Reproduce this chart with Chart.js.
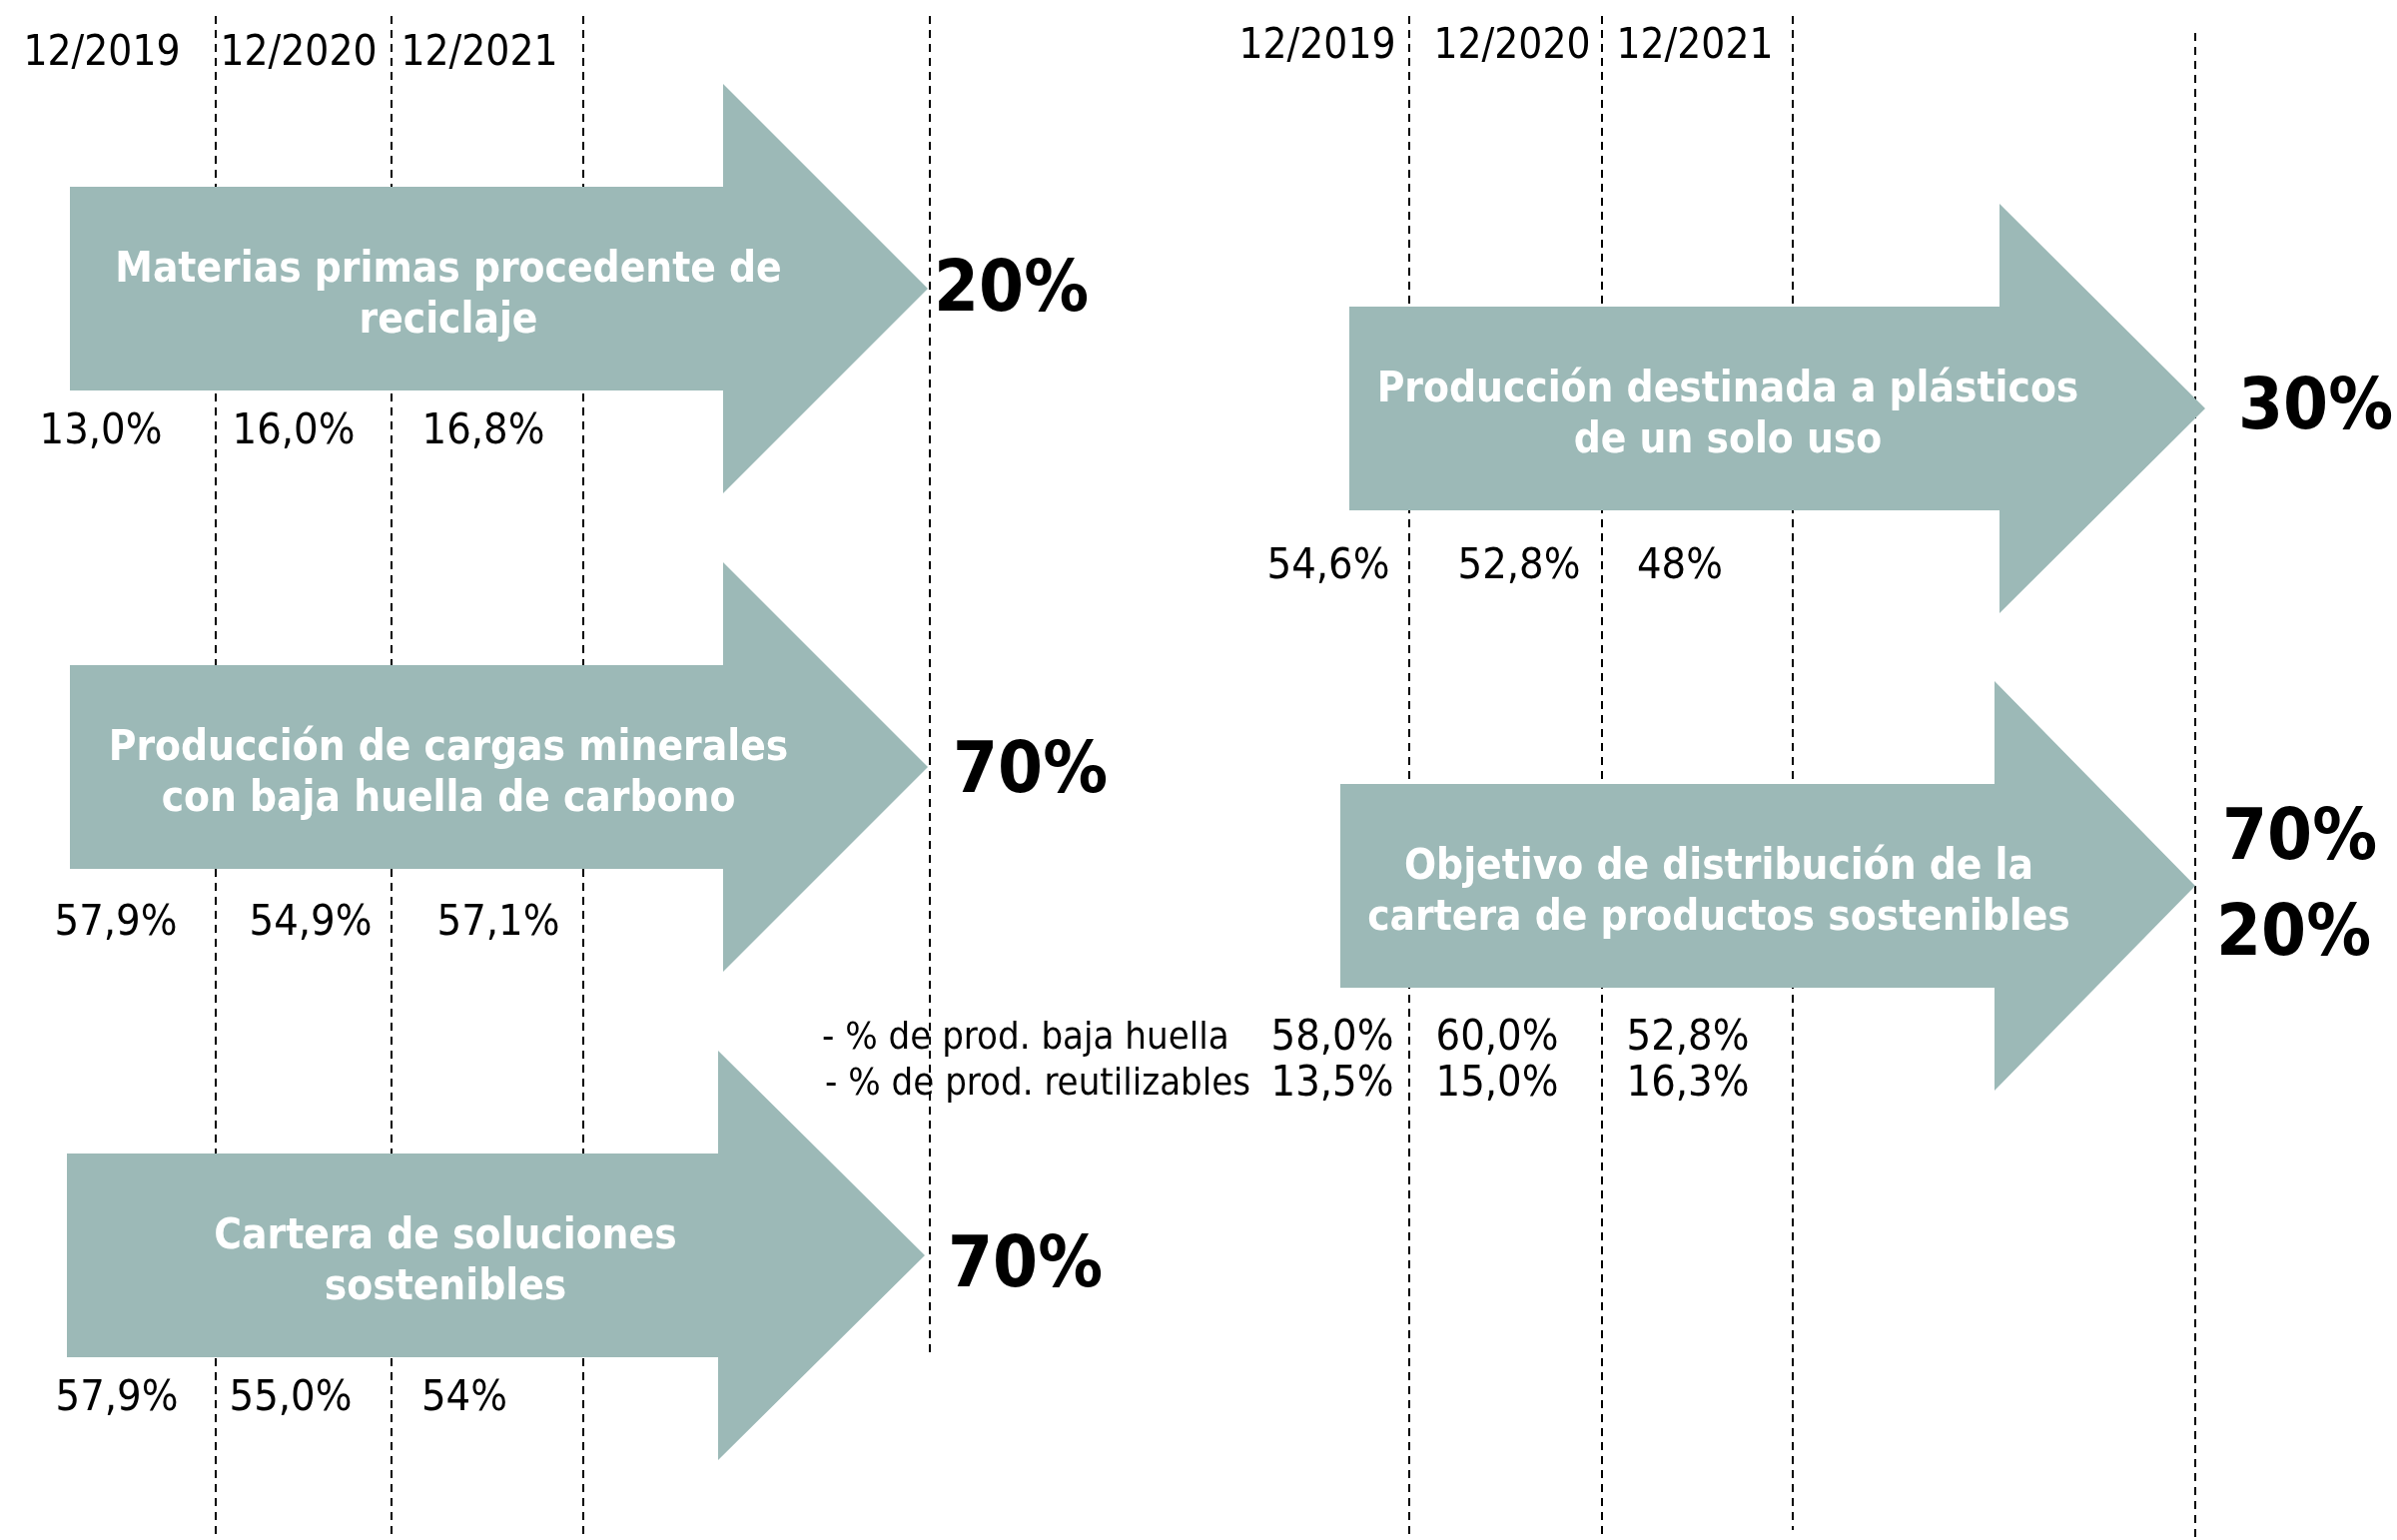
<!DOCTYPE html>
<html lang="es">
<head>
<meta charset="utf-8">
<title>Objetivos de sostenibilidad</title>
<script src="https://cdn.jsdelivr.net/npm/chart.js@4.4.0/dist/chart.umd.min.js"></script>
<style>
  html, body { margin: 0; padding: 0; background: #fff; }
  #roadmap { display: block; }
</style>
</head>
<body>
<canvas id="roadmap" width="2400" height="1542"></canvas>
<script>
// periods printed on top of both panels
const periods = ['12/2019', '12/2020', '12/2021']

// text inside each arrow
const indicatorNames = [
  ['Materias primas procedente de', 'reciclaje'],
  ['Producción de cargas minerales', 'con baja huella de carbono'],
  ['Cartera de soluciones', 'sostenibles'],
  ['Producción destinada a plásticos', 'de un solo uso'],
  ['Objetivo de distribución de la', 'cartera de productos sostenibles']
]

// historic values (%), one per period
const recicladoValues = [13.0, 16.0, 16.8]
const cargasValues = [57.9, 54.9, 57.1]
const carteraValues = [57.9, 55.0, 54]
const plasticosValues = [54.6, 52.8, 48]
const bajaHuellaValues = [58.0, 60.0, 52.8]
const reutilizablesValues = [13.5, 15.0, 16.3]

// decimals printed for each value (54% and 48% come without decimals)
const carteraDecimals = [1, 1, 0]
const plasticosDecimals = [1, 1, 0]

// targets (%) at the arrow tips
const recicladoTarget = 20
const cargasTarget = 70
const carteraTarget = 70
const plasticosTarget = 30
const bajaHuellaTarget = 70
const reutilizablesTarget = 20

const subLabels = ['- % de prod. baja huella', '- % de prod. reutilizables']

// ---- layout (pixels of the 2400x1542 sheet) ----
const W = 2400
const H = 1542
const ARROW = '#9CB9B7'
const FONT = "'DejaVu Sans Condensed', 'DejaVu Sans', sans-serif"

const fmt = (v, d = 1) => v.toFixed(d).replace('.', ',') + '%'

const guides = [
  { x: 216, top: 16, bottom: H },
  { x: 392, top: 16, bottom: H },
  { x: 584, top: 16, bottom: H },
  { x: 931, top: 16, bottom: 1355 },
  { x: 1411, top: 16, bottom: H },
  { x: 1604, top: 16, bottom: H },
  { x: 1795, top: 16, bottom: 1532 },
  { x: 2198, top: 33, bottom: H }
]

const headers = [
  { xs: [102, 299, 480], y: 54 },
  { xs: [1319, 1514, 1697], y: 47 }
]

const arrows = [
  { left: 70, base: 724, tip: 929, cy: 289,
    values: recicladoValues, valueXs: [101, 294, 484], valueY: 433,
    targets: [{ v: recicladoTarget, x: 935, y: 292 }] },
  { left: 70, base: 724, tip: 929, cy: 768,
    values: cargasValues, valueXs: [116, 311, 499], valueY: 925,
    targets: [{ v: cargasTarget, x: 954, y: 774 }] },
  { left: 67, base: 719, tip: 926, cy: 1257,
    values: carteraValues, decimals: carteraDecimals, valueXs: [117, 291, 465], valueY: 1401,
    targets: [{ v: carteraTarget, x: 949, y: 1269 }] },
  { left: 1351, base: 2002, tip: 2208, cy: 409,
    values: plasticosValues, decimals: plasticosDecimals, valueXs: [1330, 1521, 1682], valueY: 568,
    targets: [{ v: plasticosTarget, x: 2241, y: 410 }] },
  { left: 1342, base: 1997, tip: 2198, cy: 887,
    values: bajaHuellaValues, valueXs: [1334, 1499, 1690], valueY: 1040,
    extra: { values: reutilizablesValues, y: 1086 },
    targets: [{ v: bajaHuellaTarget, x: 2225, y: 841 }, { v: reutilizablesTarget, x: 2219, y: 937 }] }
]
const BODY_HALF = 102
const HEAD_HALF = 205

const roadmapPlugin = {
  id: 'roadmap',
  afterDraw (chart) {
    const ctx = chart.ctx
    const sx = chart.scales.x
    const sy = chart.scales.y
    const px = v => sx.getPixelForValue(v)
    const py = v => sy.getPixelForValue(v)

    ctx.save()

    // dashed period separators
    ctx.strokeStyle = '#000'
    ctx.lineWidth = 2
    ctx.setLineDash([8, 6])
    for (const g of guides) {
      ctx.beginPath()
      ctx.moveTo(px(g.x), py(g.top))
      ctx.lineTo(px(g.x), py(g.bottom))
      ctx.stroke()
    }
    ctx.setLineDash([])

    // period headers
    ctx.fillStyle = '#000'
    ctx.font = '42px ' + FONT
    ctx.textAlign = 'center'
    ctx.textBaseline = 'middle'
    for (const h of headers) {
      periods.forEach((p, i) => ctx.fillText(p, px(h.xs[i]), py(h.y)))
    }

    arrows.forEach((a, k) => {
      // arrow shape
      ctx.fillStyle = ARROW
      ctx.beginPath()
      ctx.moveTo(px(a.left), py(a.cy - BODY_HALF))
      ctx.lineTo(px(a.base), py(a.cy - BODY_HALF))
      ctx.lineTo(px(a.base), py(a.cy - HEAD_HALF))
      ctx.lineTo(px(a.tip), py(a.cy))
      ctx.lineTo(px(a.base), py(a.cy + HEAD_HALF))
      ctx.lineTo(px(a.base), py(a.cy + BODY_HALF))
      ctx.lineTo(px(a.left), py(a.cy + BODY_HALF))
      ctx.closePath()
      ctx.fill()

      // name
      ctx.fillStyle = '#fff'
      ctx.font = 'bold 42px ' + FONT
      ctx.textAlign = 'center'
      const lines = indicatorNames[k]
      ctx.fillText(lines[0], px(a.left + 379), py(a.cy - 18))
      ctx.fillText(lines[1], px(a.left + 379), py(a.cy + 33))

      // historic values
      ctx.fillStyle = '#000'
      ctx.font = '43px ' + FONT
      a.values.forEach((v, i) => {
        const d = a.decimals ? a.decimals[i] : 1
        ctx.fillText(fmt(v, d), px(a.valueXs[i]), py(a.valueY))
      })
      if (a.extra) {
        a.extra.values.forEach((v, i) => {
          ctx.fillText(fmt(v), px(a.valueXs[i]), py(a.extra.y))
        })
        ctx.font = '38px ' + FONT
        ctx.textAlign = 'left'
        ctx.fillText(subLabels[0], px(823), py(a.valueY))
        ctx.fillText(subLabels[1], px(826), py(a.extra.y))
      }

      // targets
      ctx.font = 'bold 72px ' + FONT
      ctx.textAlign = 'left'
      for (const t of a.targets) {
        ctx.fillText(t.v + '%', px(t.x), py(t.y))
      }
    })

    ctx.restore()
  }
}

new Chart(document.getElementById('roadmap'), {
  type: 'scatter',
  data: { datasets: [] },
  options: {
    responsive: false,
    animation: false,
    events: [],
    layout: { padding: 0 },
    plugins: { legend: { display: false }, tooltip: { enabled: false } },
    scales: {
      x: { type: 'linear', min: 0, max: W, display: false },
      y: { type: 'linear', min: 0, max: H, reverse: true, display: false }
    }
  },
  plugins: [roadmapPlugin]
})
</script>
</body>
</html>
